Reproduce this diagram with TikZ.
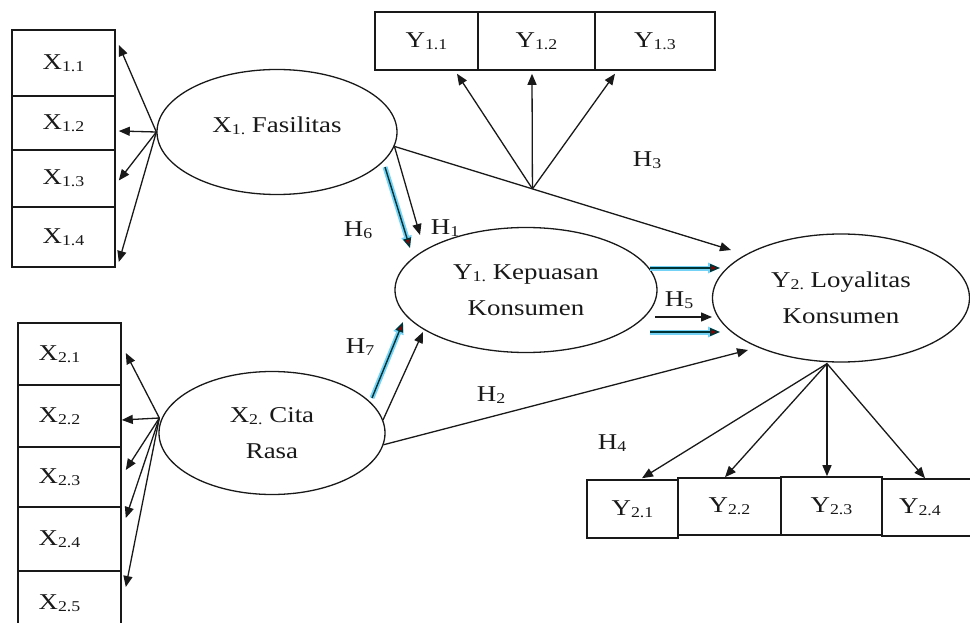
\documentclass[tikz,border=0pt]{standalone}
\usepackage{fontspec}
\setmainfont{Liberation Serif}[FakeStretch=1.19]
\usetikzlibrary{shapes.geometric,arrows.meta,calc}
\newcommand\sbx[1]{\raisebox{-2pt}{\fontsize{15}{15}\selectfont #1}}
\begin{document}
\begin{tikzpicture}[x=1pt,y=-1pt,
  box/.style={draw=black!90, line width=1.6pt, rectangle, inner sep=0pt, text=black!90, font=\fontsize{22.6}{27}\selectfont},
  lat/.style={draw=black!90, line width=1.3pt, ellipse, inner sep=0pt, align=center, text=black!90, font=\fontsize{22.6}{36}\selectfont},
  lbl/.style={inner sep=0pt, text=black!90, font=\fontsize{22.6}{27}\selectfont},
  arr/.style={draw=black!90, line width=1.3pt, -{Triangle[length=11pt,width=9pt]}},
  glow/.style={draw=cyan!55, line width=5pt, -{Triangle[length=12pt,width=10pt,fill=cyan!55]}},
  cy/.style={draw=black!60!teal, line width=1.4pt, -{Triangle[length=10pt,width=8pt,fill=red!55!black]}}
]
\clip (0,0) rectangle (970,623);
\fill[white] (0,0) rectangle (970,623);

% X1 indicator boxes
\node[box, minimum width=103pt, minimum height=66pt] (x11) at (63.5,63) {X\sbx{1.1}};
\node[box, minimum width=103pt, minimum height=54pt] (x12) at (63.5,123) {X\sbx{1.2}};
\node[box, minimum width=103pt, minimum height=57pt] (x13) at (63.5,178.5) {X\sbx{1.3}};
\node[box, minimum width=103pt, minimum height=60pt] (x14) at (63.5,237) {X\sbx{1.4}};

% X2 indicator boxes
\node[box, minimum width=103pt, minimum height=62pt] (x21) at (69.5,354) {X\sbx{2.1}\kern20pt};
\node[box, minimum width=103pt, minimum height=62pt] (x22) at (69.5,416) {X\sbx{2.2}\kern20pt};
\node[box, minimum width=103pt, minimum height=60pt] (x23) at (69.5,477) {X\sbx{2.3}\kern20pt};
\node[box, minimum width=103pt, minimum height=64pt] (x24) at (69.5,539) {X\sbx{2.4}\kern20pt};
\node[box, minimum width=103pt, minimum height=70pt] (x25) at (69.5,606) {\raisebox{7pt}{X\sbx{2.5}}\kern20pt};

% Y1 indicator boxes
\node[box, minimum width=103pt, minimum height=58pt] (y11) at (426.5,41) {Y\sbx{1.1}};
\node[box, minimum width=117pt, minimum height=58pt] (y12) at (536.5,41) {Y\sbx{1.2}};
\node[box, minimum width=120pt, minimum height=58pt] (y13) at (655,41) {Y\sbx{1.3}};

% Y2 indicator boxes
\node[box, minimum width=91pt, minimum height=58pt] (y21) at (632.5,509) {Y\sbx{2.1}};
\node[box, minimum width=103pt, minimum height=57pt] (y22) at (729.5,506.5) {Y\sbx{2.2}};
\node[box, minimum width=101pt, minimum height=58pt] (y23) at (831.5,506) {Y\sbx{2.3}};
\node[box, minimum width=100pt, minimum height=57pt] (y24) at (932,507.5) {Y\sbx{2.4}\kern24pt};

% latent variables
\node[lat, minimum width=240pt, minimum height=125pt] (f1) at (277,132) {\raisebox{15pt}{X\sbx{1.} Fasilitas}};
\node[lat, minimum width=262pt, minimum height=125pt] (y1) at (526,290) {Y\sbx{1.} Kepuasan\\Konsumen};
\node[lat, minimum width=226pt, minimum height=123pt] (f2) at (272,433) {X\sbx{2.} Cita\\Rasa};
\node[lat, minimum width=257pt, minimum height=128pt] (y2) at (841,298) {Y\sbx{2.} Loyalitas\\Konsumen};

% hypothesis labels
\node[lbl] (h1) at (445,228) {H\sbx{1}};
\node[lbl] (h2) at (491,395) {H\sbx{2}};
\node[lbl] (h3) at (647,160) {H\sbx{3}};
\node[lbl] (h4) at (612,443) {H\sbx{4}};
\node[lbl] (h5) at (679,300) {H\sbx{5}};
\node[lbl] (h6) at (358,230) {H\sbx{6}};
\node[lbl] (h7) at (360,347) {H\sbx{7}};

% X1 loadings
\draw[arr] (f1.west) -- ($(x11.east)+(3,-18)$);
\draw[arr] (f1.west) -- ($(x12.east)+(3,8)$);
\draw[arr] (f1.west) -- ($(x13.east)+(3,2)$);
\draw[arr] (f1.west) -- ($(x14.east)+(3,25)$);

% X2 loadings
\coordinate (o2) at ($(f2.west)+(1,-15)$);
\draw[arr] (o2) -- ($(x21.east)+(4,-1)$);
\draw[arr] (o2) -- ($(x22.east)+(0,4)$);
\draw[arr] (o2) -- ($(x23.east)+(4,-7)$);
\draw[arr] (o2) -- ($(x24.east)+(4,-21)$);
\draw[arr] (o2) -- ($(x25.east)+(4,-19)$);

% H3 path and Y1 indicators
\draw[arr] (f1.-7) -- coordinate[pos=0.41] (ap) ($(y2.center)+(-110,-48)$);
\draw[arr] (ap) -- ($(y11.south)+(30.5,3)$);
\draw[arr] (ap) -- ($(y12.south)+(-4.5,3)$);
\draw[arr] (ap) -- ($(y13.south)+(-40,3)$);

% H1, H6
\draw[arr] (f1.-7) -- ($(y1.center)+(-106,-55)$);
\draw[glow] ($(f1.center)+(108,35)$) -- ($(y1.center)+(-116,-42)$);
\draw[cy] ($(f1.center)+(108,35)$) -- ($(y1.center)+(-116,-42)$);

% H7 and X2 -> Y1
\draw[glow] ($(f2.center)+(100,-35)$) -- ($(y1.center)+(-123,32)$);
\draw[cy] ($(f2.center)+(100,-35)$) -- ($(y1.center)+(-123,32)$);
\draw[arr] ($(f2.center)+(111,-13)$) -- ($(y1.center)+(-103,42)$);

% H2
\draw[arr] (f2.-6) -- ($(y2.center)+(-93,52)$);

% H5
\draw[glow] ($(y1.center)+(124,-22)$) -- ($(y2.center)+(-121,-30)$);
\draw[cy] ($(y1.center)+(124,-22)$) -- ($(y2.center)+(-121,-30)$);
\draw[arr] ($(y1.center)+(129,27)$) -- ($(y2.center)+(-129,19)$);
\draw[glow] ($(y1.center)+(124,42)$) -- ($(y2.center)+(-121,34)$);
\draw[cy] ($(y1.center)+(124,42)$) -- ($(y2.center)+(-121,34)$);

% Y2 loadings
\coordinate (o3) at ($(y2.south)+(-14,1)$);
\draw[arr] (o3) -- ($(y21.north)+(9.5,-1)$);
\draw[arr] (o3) -- ($(y22.north)+(-4.5,0)$);
\draw[arr] (o3) -- ($(y23.north)+(-4.5,0)$);
\draw[arr] (o3) -- ($(y24.north)+(-7,0)$);
\end{tikzpicture}
\end{document}
